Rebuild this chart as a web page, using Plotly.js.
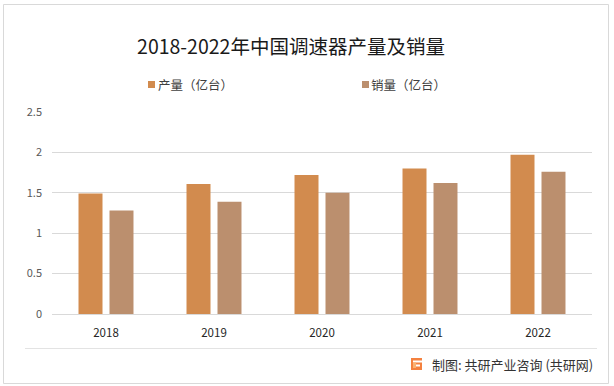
<!DOCTYPE html>
<html><head><meta charset="utf-8">
<script src="https://cdn.plot.ly/plotly-3.0.1.min.js"></script>
<style>html,body{margin:0;padding:0;background:#fff}#chart{width:614px;height:386px}</style>
</head><body><div id="chart"></div>
<script>
const years = ['2018', '2019', '2020', '2021', '2022'];
const production = [1.49, 1.61, 1.72, 1.80, 1.97];
const sales = [1.28, 1.39, 1.50, 1.62, 1.76];
const seriesNames = ['产量（亿台）', '销量（亿台）'];
const seriesColors = ['#D28B4E', '#BB8F6E'];
const yTickVals = [0, 0.5, 1, 1.5, 2, 2.5];
const yTickText = ['0', '0.5', '1', '1.5', '2', '2.5'];
const titleText = '2018-2022年中国调速器产量及销量';
const sourceText = '制图: 共研产业咨询 (共研网)';

const W = 614, H = 386, ML = 52, MR = 22, MT = 112, MB = 72;
const PW = W - ML - MR, PH = H - MT - MB;
const px = v => (v - ML) / PW;
const py = v => (H - MB - v) / PH;

const CJK = '"Noto Sans CJK SC", "Microsoft YaHei", sans-serif';

const traces = [
  {type: 'bar', name: seriesNames[0], x: years, y: production,
   marker: {color: seriesColors[0]}, hoverinfo: 'skip', showlegend: false},
  {type: 'bar', name: seriesNames[1], x: years, y: sales,
   marker: {color: seriesColors[1]}, hoverinfo: 'skip', showlegend: false}
];

// legend entries (drawn as key square + label)
const legendX = [148, 362];
const legendY = 84.5;
const legendShapes = seriesNames.map((n, i) => ({
  type: 'rect', xref: 'paper', yref: 'paper',
  x0: px(legendX[i]), x1: px(legendX[i] + 7), y0: py(legendY - 3.5), y1: py(legendY + 3.5),
  line: {width: 0}, fillcolor: seriesColors[i]
}));
const legendLabels = seriesNames.map((n, i) => ({
  text: n, xref: 'paper', yref: 'paper', x: px(legendX[i] + 7.5), xanchor: 'left',
  y: py(legendY), yanchor: 'middle', showarrow: false,
  font: {family: CJK, size: 12.5, color: '#404040'}
}));

const layout = {
  width: W, height: H,
  margin: {l: ML, r: MR, t: MT, b: MB, pad: 0},
  paper_bgcolor: '#ffffff', plot_bgcolor: '#ffffff',
  font: {family: CJK, color: '#595959', size: 11},
  barmode: 'group', bargap: 0.426, bargroupgap: 0.226,
  title: {text: titleText, x: px(291), xref: 'paper', xanchor: 'center',
          y: 1 - 47 / H, yref: 'container', yanchor: 'middle',
          font: {family: CJK, size: 19.5, color: '#1a1a1a'}},
  showlegend: false,
  xaxis: {type: 'category', showgrid: false, showline: true, linecolor: '#d9d9d9', linewidth: 1,
          ticks: '', ticklabelstandoff: 8, tickfont: {size: 11.5, color: '#262626', family: CJK},
          fixedrange: true},
  yaxis: {range: [0, 2.5], tickvals: yTickVals, ticktext: yTickText, showgrid: true,
          gridcolor: '#d9d9d9', gridwidth: 1, zeroline: false, showline: false, ticks: '',
          ticklabelstandoff: 9, tickfont: {size: 11, color: '#595959', family: CJK},
          fixedrange: true},
  shapes: [
    {type: 'rect', xref: 'paper', yref: 'paper', x0: px(3.5), x1: px(608.5), y0: py(4.5), y1: py(383.5),
     line: {color: '#d9d9d9', width: 1}, fillcolor: 'rgba(0,0,0,0)', layer: 'below'},
    {type: 'line', xref: 'paper', yref: 'paper', x0: px(25), x1: px(597), y0: py(348.5), y1: py(348.5),
     line: {color: '#e3e3e3', width: 1}},
    {type: 'rect', xref: 'paper', yref: 'paper', x0: px(411), x1: px(422), y0: py(358), y1: py(370),
     line: {width: 0}, fillcolor: '#F4813F'},
    {type: 'rect', xref: 'paper', yref: 'paper', x0: px(413), x1: px(422), y0: py(360.5), y1: py(362.5),
     line: {width: 0}, fillcolor: '#ffffff'},
    {type: 'rect', xref: 'paper', yref: 'paper', x0: px(413), x1: px(416), y0: py(362.5), y1: py(368),
     line: {width: 0}, fillcolor: '#FBB271'},
    {type: 'rect', xref: 'paper', yref: 'paper', x0: px(416), x1: px(420), y0: py(364.5), y1: py(366.5),
     line: {width: 0}, fillcolor: '#ffffff'}
  ].concat(legendShapes),
  annotations: [
    {text: sourceText, xref: 'paper', yref: 'paper', x: px(430), xanchor: 'left',
     y: py(364), yanchor: 'middle', showarrow: false,
     font: {family: CJK, size: 13, color: '#333333'}}
  ].concat(legendLabels)
};

Plotly.newPlot('chart', traces, layout, {displayModeBar: false, staticPlot: true});
</script></body></html>
